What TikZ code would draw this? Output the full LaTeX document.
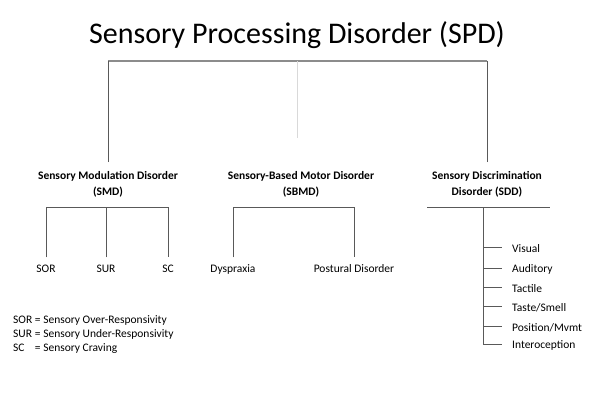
\documentclass[tikz,border=0pt]{standalone}
\usepackage{fontspec}
\setmainfont{Carlito}
\usetikzlibrary{positioning}
\usetikzlibrary{calc}

\begin{document}
\begin{tikzpicture}[x=1pt, y=-1pt,
                titlenode/.style={font=\fontsize{30}{36}\selectfont, anchor=base, inner sep=0pt},
                groupnode/.style={font=\bfseries\fontsize{11.5}{16}\selectfont, align=center, anchor=north, inner xsep=2pt, inner ysep=9pt},
                leafnode/.style={font=\fontsize{11.5}{14}\selectfont, anchor=base, text height=8.5pt, inner ysep=6pt},
                itemnode/.style={font=\fontsize{11.5}{14}\selectfont, anchor=base west, inner sep=2pt},
                treeline/.style={draw=black!65, line width=0.8pt},
                topline/.style={draw=black!45, line width=1.2pt},
                midline/.style={draw=black!15, line width=0.7pt},
                ]
                \useasboundingbox (0,0) rectangle (594,400);

                \node[titlenode] (SPD) at (297,43) {Sensory Processing Disorder (SPD)};

                \node[groupnode] (SMD) at (108,162) {Sensory Modulation Disorder\\(SMD)};
                \node[groupnode] (SBMD) at (301,162) {Sensory-Based Motor Disorder\\(SBMD)};
                \node[groupnode] (SDD) at (487,162) {Sensory Discrimination\\Disorder (SDD)};

                \node[leafnode] (SOR) at (46,272) {SOR};
                \node[leafnode] (SUR) at (106,272) {SUR};
                \node[leafnode] (SC) at (168,272) {SC};
                \node[leafnode] (Dysp) at (233,272) {Dyspraxia};
                \node[leafnode] (Post) at (354,272) {Postural Disorder};

                \node[itemnode] (Visual) at (510,252) {Visual};
                \node[itemnode] (Audit) at (510,272) {Auditory};
                \node[itemnode] (Tact) at (510,292) {Tactile};
                \node[itemnode] (Taste) at (510,311) {Taste/Smell};
                \node[itemnode] (Posit) at (510,331) {Position/Mvmt};
                \node[itemnode] (Intero) at (510,348) {Interoception};

                \node[font=\fontsize{11.5}{14}\selectfont, anchor=north west, inner sep=0pt] (key) at (13,313)
                    {\begin{tabular}{@{}l@{ }l@{}}SOR &= Sensory Over-Responsivity\\SUR &= Sensory Under-Responsivity\\SC &= Sensory Craving\end{tabular}};

                \coordinate (topbar) at (0,61);
                \coordinate (topmid) at (297,61);
                \coordinate (smdbar) at (0,207);
                \coordinate (sbmdbar) at (0,207);
                \coordinate (sddL) at (427,207);
                \coordinate (sddR) at (550,207);
                \coordinate (sddv) at (483,207);

                % top level
                \draw[topline] (SMD.north |- topbar) -- (SDD.north |- topbar);
                \draw[treeline] (SMD.north) -- (SMD.north |- topbar);
                \draw[treeline] (SDD.north) -- (SDD.north |- topbar);
                \draw[midline] (topmid) -- ++(0,77);

                % modulation
                \draw[treeline] (SOR.north) -- (SOR.north |- smdbar) -- (SC.north |- smdbar) -- (SC.north);
                \draw[treeline] (SUR.north) -- (SUR.north |- smdbar);

                % motor
                \draw[treeline] (Dysp.north) -- (Dysp.north |- sbmdbar) -- (Post.north |- sbmdbar) -- (Post.north);

                % discrimination
                \draw[treeline] (sddL) -- (sddR);
                \draw[treeline] (sddv) -- ($(sddv |- Intero.west)+(0,-1)$);
                \foreach \n in {Visual, Audit, Tact, Taste, Posit, Intero}
                    \draw[treeline] (sddv |- \n.west) ++(0,-1) -- ($(\n.west)+(-8,-1)$);
\end{tikzpicture}
\end{document}
